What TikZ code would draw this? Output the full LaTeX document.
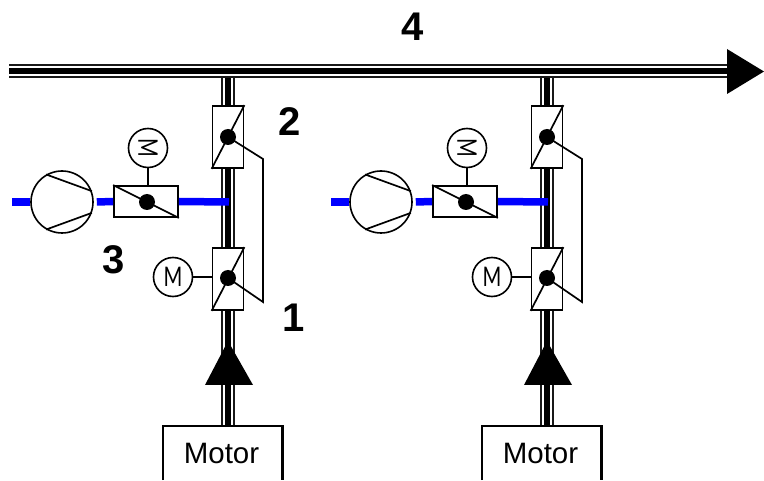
\documentclass[tikz,border=0pt]{standalone}
\usepackage{fontspec}
\setmainfont{Liberation Sans}
\newfontfamily\lightfont{Lato}
\usetikzlibrary{positioning,calc}

\tikzset{
  pipe/.style={line width=14pt,draw=black!90,postaction={draw=white,line width=10pt},postaction={draw=black,line width=6.5pt}},
  airline/.style={line width=7.5pt,draw=blue},
  thin line/.style={line width=1.7pt},
  damper/.style={draw,line width=1.8pt,fill=white,inner sep=0pt},
  actuator/.style={draw,circle,line width=1.6pt,fill=white,minimum size=39pt,inner sep=0pt,font=\fontsize{27}{27}\lightfont},
  pivot/.style={circle,fill=black,minimum size=16pt,inner sep=0pt},
  numlabel/.style={font=\fontsize{40}{40}\selectfont\bfseries},
}

\begin{document}
\begin{tikzpicture}[x=1pt,y=-1pt]
  \useasboundingbox (0,0) rectangle (764,481);
  \foreach \col/\dx in {a/0,b/319}{
    \begin{scope}[xshift=\dx pt]
      % pipe up to the main
      \coordinate (\col bus) at (228,71);
      \node[minimum width=119pt,minimum height=54pt,inner sep=0pt,font=\fontsize{29.5}{29.5}\selectfont] (\col motor) at (222.5,453) {\hspace*{-2pt}Motor};
      \draw[pipe] (\col motor.north -| \col bus) -- (\col bus);
      \draw[line width=2.6pt] (\col motor.south west) -- (\col motor.north west) -- (\col motor.north east) -- (\col motor.south east);
      \fill (228,341) -- (253,385) -- (205,385) -- cycle;
      % dampers on the pipe
      \node[damper,minimum width=31pt,minimum height=62pt] (\col upper) at (228,137) {};
      \node[damper,minimum width=31pt,minimum height=62pt] (\col lower) at (228,279) {};
      \draw[thin line] (\col upper.north east) -- (\col upper.south west);
      \draw[thin line] (\col lower.north east) -- (\col lower.south west);
      \node[pivot] (\col upperpin) at (228,137) {};
      \node[pivot] (\col lowerpin) at (228,278) {};
      \coordinate (\col linktop) at (263,159);
      \coordinate (\col linkbot) at (263,302);
      \draw[thin line] (\col upperpin.center) -- (\col linktop) -- (\col linkbot) -- (\col lowerpin.center);
      \node[actuator] (\col lowermotor) at (173,277) {\scalebox{0.75}[1]{M}};
      \draw[thin line] (\col lowermotor) -- (\col lower.west |- \col lowermotor);
      % air branch
      \coordinate (\col intake) at (12,202);
      \coordinate (\col branch) at (229,202);
      \node[draw,circle,line width=1.6pt,fill=white,minimum size=62pt,inner sep=0pt] (\col comp) at (62,202) {};
      \node[damper,minimum width=64pt,minimum height=31pt] (\col valve) at (146,201.5) {};
      \draw[airline] (\col intake) -- (\col comp.west);
      \draw[airline] (\col comp.east) ++(3,0) -- (\col valve.west);
      \draw[airline] (\col valve.east) -- (\col branch);
      \draw[thin line] (\col comp.120) -- (\col comp.20);
      \draw[thin line] (\col comp.240) -- (\col comp.340);
      \draw[thin line] (\col valve.north west) -- (\col valve.south east);
      \node[pivot] (\col valvepin) at (147,202) {};
      \node[actuator] (\col valvemotor) at (148,148) {\rotatebox{-90}{\scalebox{0.75}[1]{M}}};
      \draw[thin line] (\col valvemotor) -- (\col valvemotor |- \col valve.north);
    \end{scope}
  }
  % main line
  \coordinate (start) at (9,71);
  \coordinate (end) at (728,71);
  \draw[pipe] (start) -- (end);
  \fill (727,49) -- (764,71.5) -- (727,94) -- cycle;
  \node[numlabel] (n4) at (413,27) {4};
  \node[numlabel] (n2) at (290,122) {2};
  \node[numlabel] (n3) at (114,260) {3};
  \node[numlabel] (n1) at (294,318) {1};
\end{tikzpicture}
\end{document}
